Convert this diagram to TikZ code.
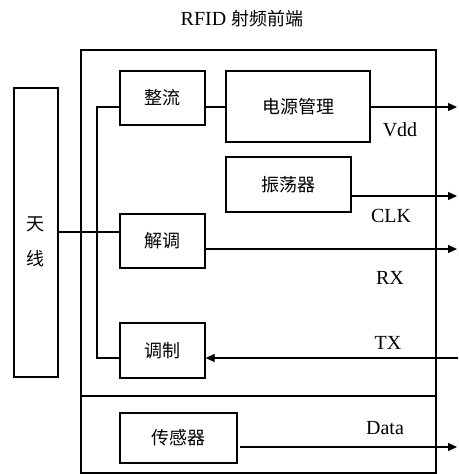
\documentclass[tikz,border=0pt]{standalone}
\usepackage{fontspec}
\setmainfont{Liberation Serif}
\newfontfamily\cjk{Noto Sans CJK SC}
\usetikzlibrary{arrows.meta}
\begin{document}
\begin{tikzpicture}[x=1pt,y=-1pt,line width=1.3pt,
  blk/.style={draw,rectangle,inner sep=0pt,font=\cjk\fontsize{18}{20}\selectfont},
  lbl/.style={font=\fontsize{20}{22}\selectfont,inner sep=0pt},
  arr/.style={-{Triangle[length=9pt,width=8pt]}}]
\useasboundingbox (0,0) rectangle (458,474);
% title
\node[lbl] (title) at (242,19) {RFID {\cjk\fontsize{18}{20}\selectfont 射频前端}};
% outer frame
\node[draw,rectangle,inner sep=0pt,minimum width=355pt,minimum height=423pt] (frame) at (258.5,261.5) {};
\coordinate (sepL) at (81,396);
\coordinate (sepR) at (436,396);
\draw (sepL) -- (sepR);
% antenna
\node[draw,rectangle,inner sep=0pt,minimum width=44pt,minimum height=289pt] (ant) at (36,232.5) {};
\node[font=\cjk\fontsize{18}{20}\selectfont,inner sep=0pt] (t1) at (36,224) {天};
\node[font=\cjk\fontsize{18}{20}\selectfont,inner sep=0pt] (t2) at (36,259) {线};
% blocks
\node[blk,minimum width=85pt,minimum height=54pt] (zl) at (162.5,98) {整流};
\node[blk,minimum width=144pt,minimum height=71pt] (dy) at (298,106.5) {电源管理};
\node[blk,minimum width=125pt,minimum height=55pt] (zd) at (288.5,184.5) {振荡器};
\node[blk,minimum width=85pt,minimum height=54pt] (jt) at (162.5,241) {解调};
\node[blk,minimum width=85pt,minimum height=55pt] (tz) at (162.5,350.5) {调制};
\node[blk,minimum width=117pt,minimum height=50pt] (cg) at (178.5,438) {传感器};
% helper coordinates
\coordinate (b1) at (97,107);
\coordinate (b2) at (97,358);
\coordinate (ay) at (0,232);
\coordinate (vdd) at (457,107);
\coordinate (clk) at (457,196);
\coordinate (rx) at (457,249);
\coordinate (tx) at (458,358);
\coordinate (dat) at (457,447);
\coordinate (dats) at (240,447);
% connectors
\draw (zl.west |- b1) -- (b1) -- (b2) -- (tz.west |- b2);
\draw (ant.east |- ay) -- (jt.west |- ay);
\draw (zl.east |- b1) -- (dy.west |- b1);
\draw[arr] (dy.east |- vdd) -- (vdd);
\draw[arr] (zd.east |- clk) -- (clk);
\draw[arr] (jt.east |- rx) -- (rx);
\draw[arr] (tx) -- (tz.east |- tx);
\draw[arr] (dats) -- (dat);
% labels
\node[lbl] (lvdd) at (400,130) {Vdd};
\node[lbl] (lclk) at (391,216) {CLK};
\node[lbl] (lrx) at (390,278) {RX};
\node[lbl] (ltx) at (388,343) {TX};
\node[lbl] (ldat) at (385,428) {Data};
\end{tikzpicture}
\end{document}
